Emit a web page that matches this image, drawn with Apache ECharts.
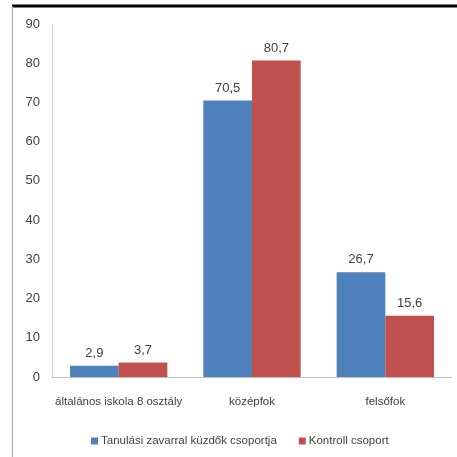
<!DOCTYPE html>
<html>
<head>
<meta charset="utf-8">
<script src="https://cdn.jsdelivr.net/npm/echarts@6/dist/echarts.min.js"></script>
<style>
  html, body { margin: 0; padding: 0; background: #fff; }
  #chart { width: 457px; height: 457px; }
</style>
</head>
<body>
<div id="chart"></div>
<script>
// Education level by group (percent)
const categories = ['általános iskola 8 osztály', 'középfok', 'felsőfok'];
const seriesNames = ['Tanulási zavarral küzdők csoportja', 'Kontroll csoport'];
const learningGroup = [2.9, 70.5, 26.7];
const controlGroup = [3.7, 80.7, 15.6];
const yTicks = [0, 10, 20, 30, 40, 50, 60, 70, 80, 90];

const FONT = '"Liberation Sans", Arial, sans-serif';
const TEXT = '#404040';

const fmt = v => String(v).replace('.', ',');

const chart = echarts.init(document.getElementById('chart'), null, { renderer: 'canvas' });

const labelStyle = {
  show: true,
  position: 'top',
  distance: 6,
  color: TEXT,
  fontFamily: FONT,
  fontSize: 13,
  formatter: p => fmt(p.value)
};

chart.setOption({
  animation: false,
  backgroundColor: '#fff',
  textStyle: { fontFamily: FONT },
  grid: { left: 52, right: 5, top: 24, bottom: 80, containLabel: false },
  legend: {
    top: 430,
    left: 86,
    itemWidth: 7,
    itemHeight: 7,
    itemGap: 22,
    icon: 'rect',
    textStyle: { color: TEXT, fontFamily: FONT, fontSize: 11.5, padding: [0, 0, 0, -2] },
    data: seriesNames
  },
  xAxis: {
    type: 'category',
    data: categories,
    axisLine: { lineStyle: { color: '#bfbfbf', width: 1 } },
    axisTick: { show: false },
    axisLabel: { interval: 0, color: TEXT, fontFamily: FONT, fontSize: 11.5, margin: 19 }
  },
  yAxis: {
    type: 'value',
    min: yTicks[0],
    max: yTicks[yTicks.length - 1],
    interval: 10,
    axisLine: { show: true, lineStyle: { color: '#d0d0d0', width: 1 } },
    axisTick: { show: false },
    splitLine: { show: false },
    axisLabel: { color: TEXT, fontFamily: FONT, fontSize: 13, margin: 12 }
  },
  series: [
    {
      name: seriesNames[0],
      type: 'bar',
      data: learningGroup,
      barGap: '0%',
      barCategoryGap: '27%',
      itemStyle: { color: '#4F81BD' },
      label: labelStyle
    },
    {
      name: seriesNames[1],
      type: 'bar',
      data: controlGroup,
      itemStyle: { color: '#C0504D' },
      label: labelStyle
    }
  ],
  graphic: [
    // frame edges around the chart
    { type: 'line', shape: { x1: 12, y1: 6, x2: 457, y2: 6 }, style: { stroke: '#000', lineWidth: 3 }, silent: true },
    { type: 'line', shape: { x1: 12.5, y1: 6, x2: 12.5, y2: 457 }, style: { stroke: '#a6a6a6', lineWidth: 1 }, silent: true }
  ]
});
</script>
</body>
</html>
